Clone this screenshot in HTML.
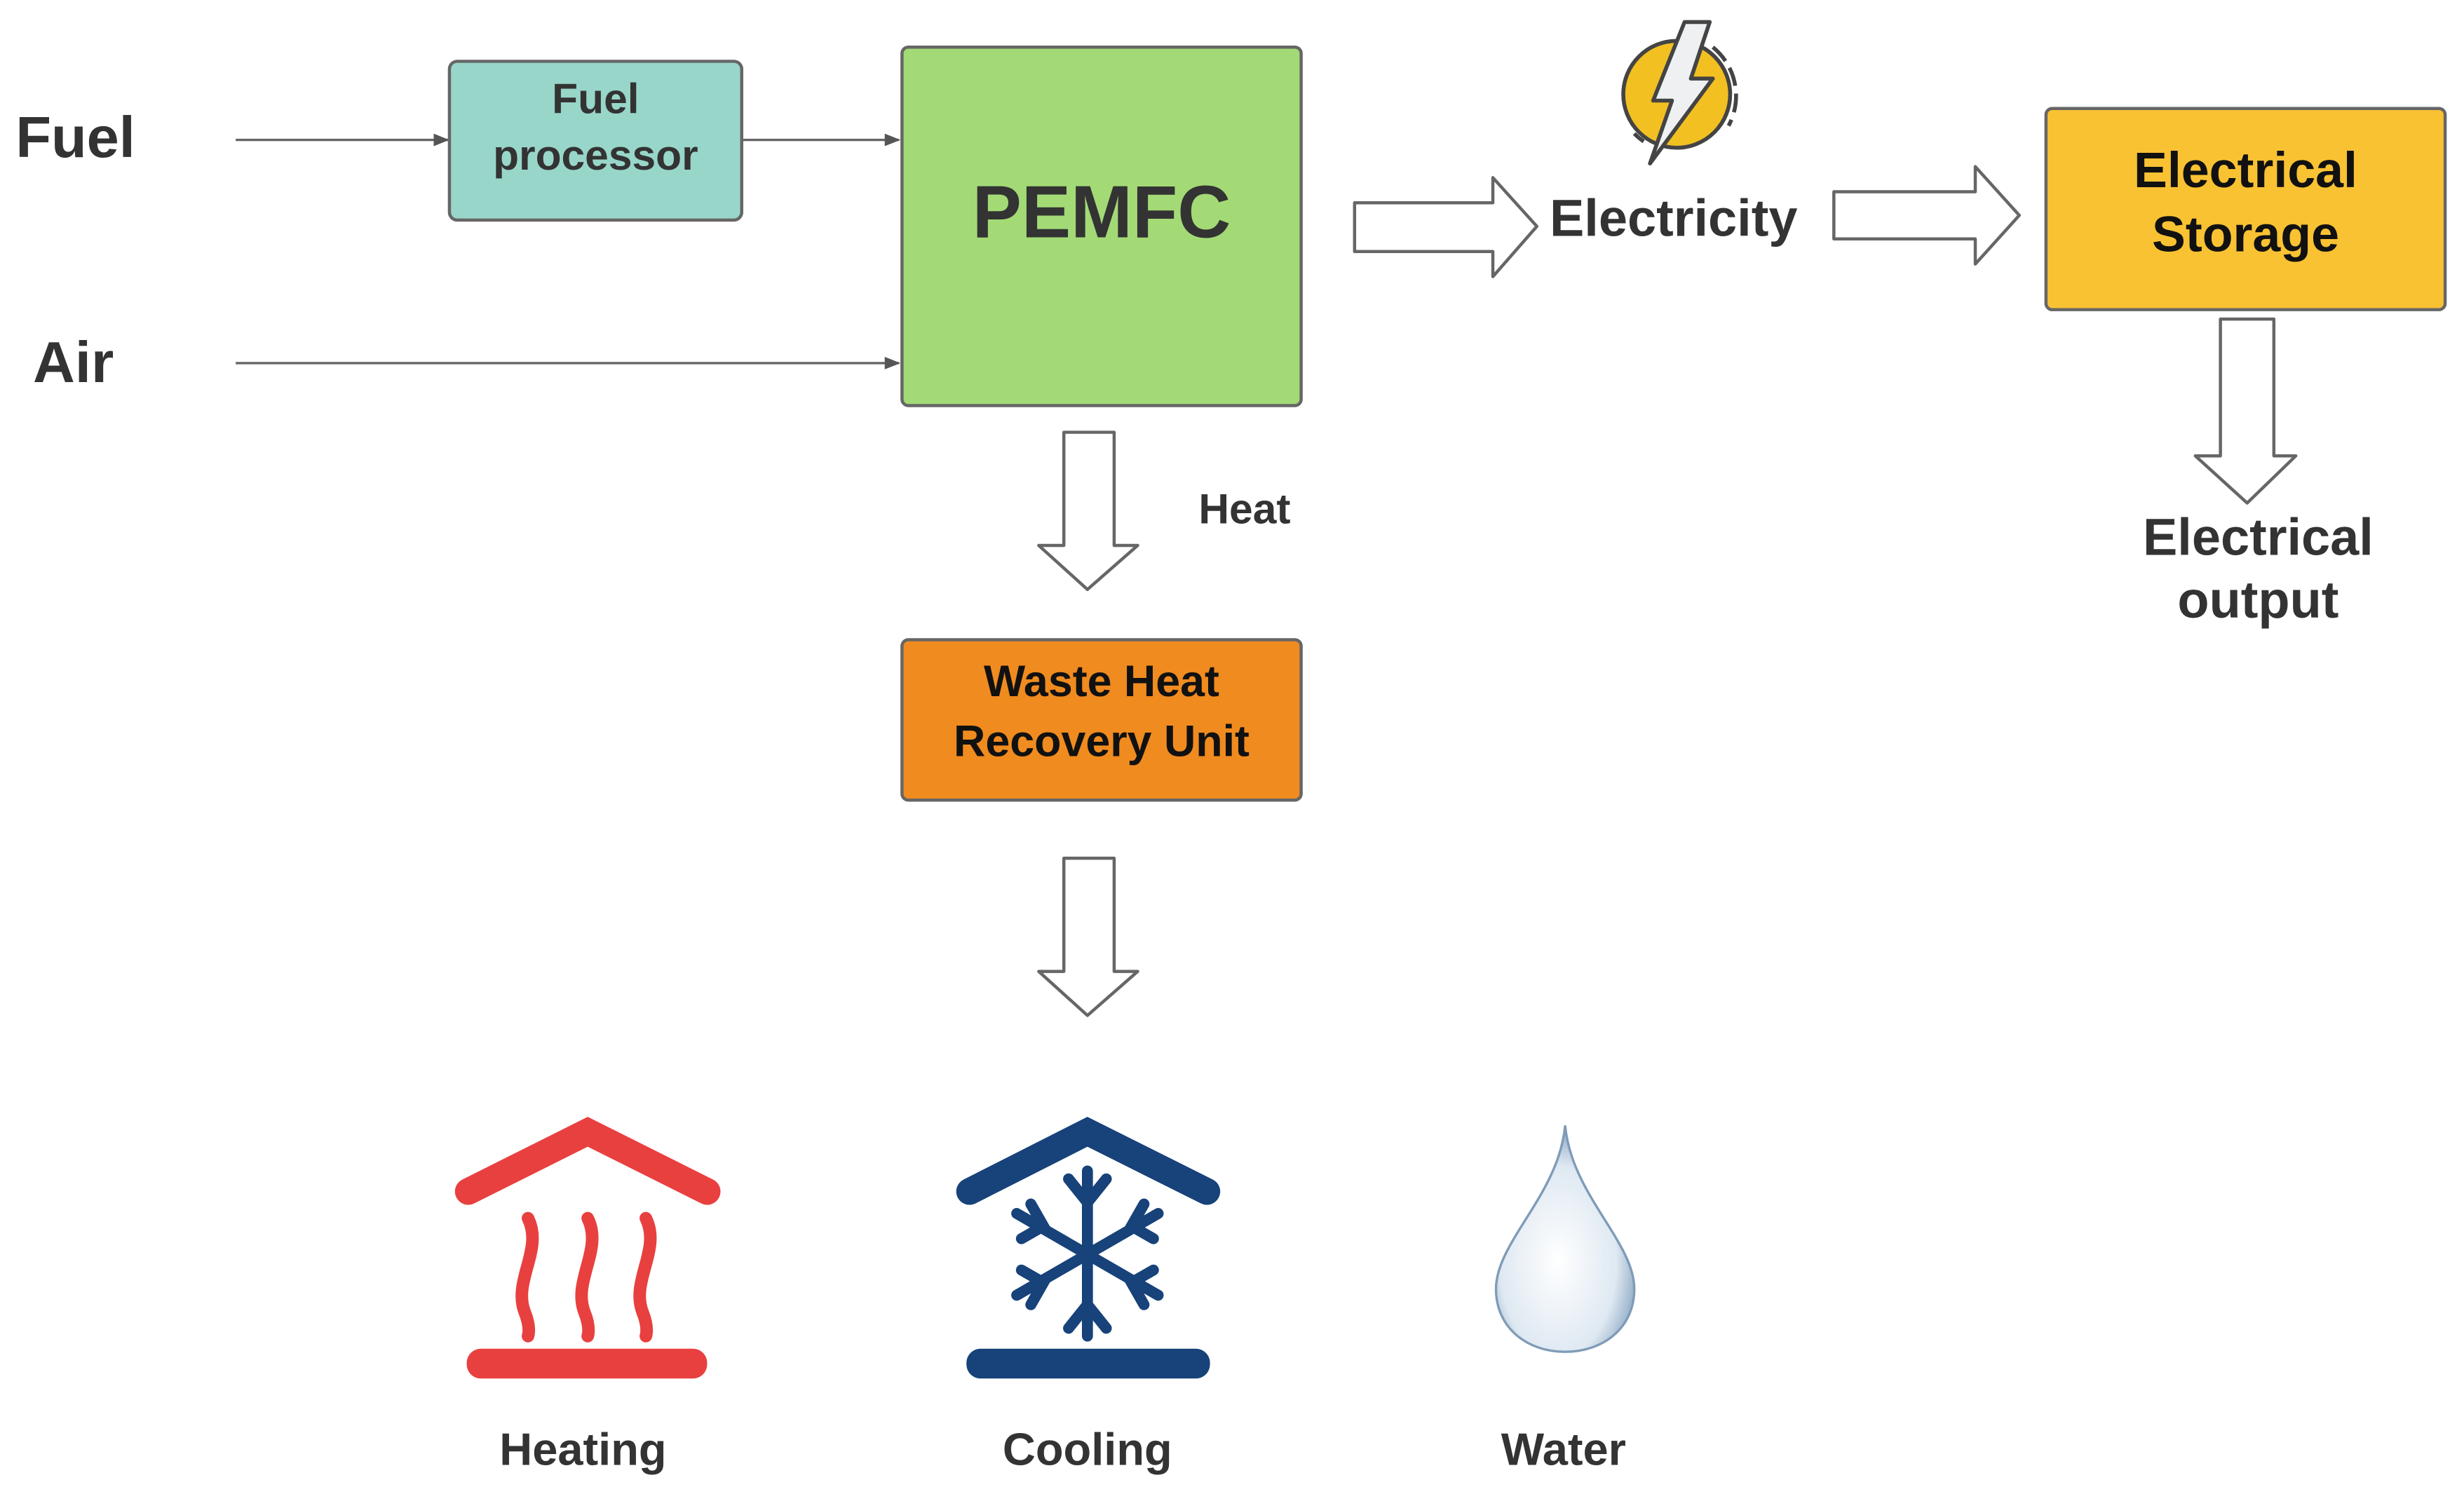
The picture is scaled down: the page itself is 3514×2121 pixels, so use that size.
<!DOCTYPE html>
<html><head><meta charset="utf-8"><style>
html,body{margin:0;padding:0;background:#fff;}
svg{display:block;}
text{font-family:"Liberation Sans",Arial,sans-serif;font-weight:bold;fill:#333;}
</style></head><body>
<svg width="3514" height="2121" viewBox="0 0 1568 946" preserveAspectRatio="none" xmlns="http://www.w3.org/2000/svg">
<defs>
<marker id="ah" markerWidth="10" markerHeight="10" refX="9" refY="5" orient="auto" markerUnits="userSpaceOnUse">
<path d="M0,1 L10,5 L0,9 Z" fill="#555"/></marker>
<radialGradient id="drop" cx="0.45" cy="0.6" r="0.6">
<stop offset="0" stop-color="#ffffff"/><stop offset="0.7" stop-color="#dfe9f2"/><stop offset="1" stop-color="#8aa6c2"/></radialGradient>
</defs>
<text x="10" y="100" font-size="37">Fuel</text>
<text x="21" y="243" font-size="37">Air</text>
<line x1="150" y1="89" x2="285" y2="89" stroke="#666" stroke-width="1.5" marker-end="url(#ah)"/>
<line x1="473" y1="89" x2="572" y2="89" stroke="#666" stroke-width="1.5" marker-end="url(#ah)"/>
<line x1="150" y1="231" x2="572" y2="231" stroke="#666" stroke-width="1.5" marker-end="url(#ah)"/>
<rect x="286" y="39" width="186" height="101" rx="5" fill="#98d6ca" stroke="#666" stroke-width="2"/>
<text x="379" y="72" font-size="27" text-anchor="middle">Fuel</text>
<text x="379" y="108" font-size="27" text-anchor="middle">processor</text>
<rect x="574" y="30" width="254" height="228" rx="4" fill="#a3da76" stroke="#666" stroke-width="2"/>
<text x="701" y="151" font-size="47" text-anchor="middle">PEMFC</text>
<path d="M862,129 L950,129 L950,113 L978,144 L950,176 L950,160 L862,160 Z" fill="#fff" stroke="#666" stroke-width="2" stroke-linejoin="round"/>
<text x="1065" y="150" font-size="33" text-anchor="middle">Electricity</text>
<path d="M1167,122 L1257,122 L1257,106 L1285,137 L1257,168 L1257,152 L1167,152 Z" fill="#fff" stroke="#666" stroke-width="2" stroke-linejoin="round"/>
<circle cx="1067" cy="60" r="34" fill="#f3c022" stroke="#444" stroke-width="2.5"/>
<path d="M1090,30 A40,40 0 0 1 1100,80" fill="none" stroke="#444" stroke-width="2.5" stroke-dasharray="12,5"/>
<path d="M1046,90 A40,40 0 0 1 1040,85" fill="none" stroke="#444" stroke-width="2.5"/>
<path d="M1072,14 L1088,14 L1076,50 L1090,50 L1050,104 L1064,64 L1052,64 Z" fill="#eef0f2" stroke="#444" stroke-width="2.5" stroke-linejoin="round"/>
<rect x="1302" y="69" width="254" height="128" rx="4" fill="#f9c233" stroke="#666" stroke-width="2"/>
<text x="1429" y="119" font-size="32" text-anchor="middle" style="fill:#111">Electrical</text>
<text x="1429" y="160" font-size="32" text-anchor="middle" style="fill:#111">Storage</text>
<path d="M1413,203 L1447,203 L1447,290 L1461,290 L1430,320 L1397,290 L1413,290 Z" fill="#fff" stroke="#666" stroke-width="2" stroke-linejoin="round"/>
<text x="1437" y="353" font-size="33" text-anchor="middle">Electrical</text>
<text x="1437" y="393" font-size="33" text-anchor="middle">output</text>
<path d="M677,275 L709,275 L709,347 L724,347 L692,375 L661,347 L677,347 Z" fill="#fff" stroke="#666" stroke-width="2" stroke-linejoin="round"/>
<text x="792" y="333" font-size="27" text-anchor="middle">Heat</text>
<rect x="574" y="407" width="254" height="102" rx="4" fill="#f08b1f" stroke="#666" stroke-width="2"/>
<text x="701" y="443" font-size="28" text-anchor="middle" style="fill:#111">Waste Heat</text>
<text x="701" y="481" font-size="28" text-anchor="middle" style="fill:#111">Recovery Unit</text>
<path d="M677,546 L709,546 L709,618 L724,618 L692,646 L661,618 L677,618 Z" fill="#fff" stroke="#666" stroke-width="2" stroke-linejoin="round"/>
<path d="M298,758 L374,720 L450,758" fill="none" stroke="#e8403f" stroke-width="17" stroke-linecap="round"/>
<g fill="none" stroke="#e8403f" stroke-width="8" stroke-linecap="round">
<path d="M336,775 C346,795 326,815 334,835 C338,845 336,850 336,850"/>
<path d="M374,775 C384,795 364,815 372,835 C376,845 374,850 374,850"/>
<path d="M411,775 C421,795 401,815 409,835 C413,845 411,850 411,850"/>
</g>
<rect x="297" y="858" width="153" height="19" rx="9" fill="#e8403f"/>
<path d="M617,758 L692,720 L768,758" fill="none" stroke="#17427a" stroke-width="17" stroke-linecap="round"/>
<g stroke="#17427a" stroke-width="7" stroke-linecap="round" fill="none">
<line x1="692" y1="745" x2="692" y2="850"/>
<line x1="647" y1="772" x2="737" y2="824"/>
<line x1="647" y1="824" x2="737" y2="772"/>
<path d="M680,750 L692,765 L704,750 M680,845 L692,830 L704,845"/>
<path d="M650,788 L664,780 L656,766 M734,788 L720,780 L728,766 M650,808 L664,816 L656,830 M734,808 L720,816 L728,830"/>
</g>
<rect x="615" y="858" width="155" height="19" rx="9" fill="#17427a"/>
<path d="M996,716 C1000,760 1040,790 1040,820 C1040,845 1020,860 996,860 C972,860 952,845 952,820 C952,790 992,760 996,716 Z" fill="url(#drop)" stroke="#7f9bb8" stroke-width="1.5"/>
<text x="371" y="932" font-size="29" text-anchor="middle">Heating</text>
<text x="692" y="932" font-size="29" text-anchor="middle">Cooling</text>
<text x="995" y="932" font-size="29" text-anchor="middle">Water</text>
</svg>
</body></html>
